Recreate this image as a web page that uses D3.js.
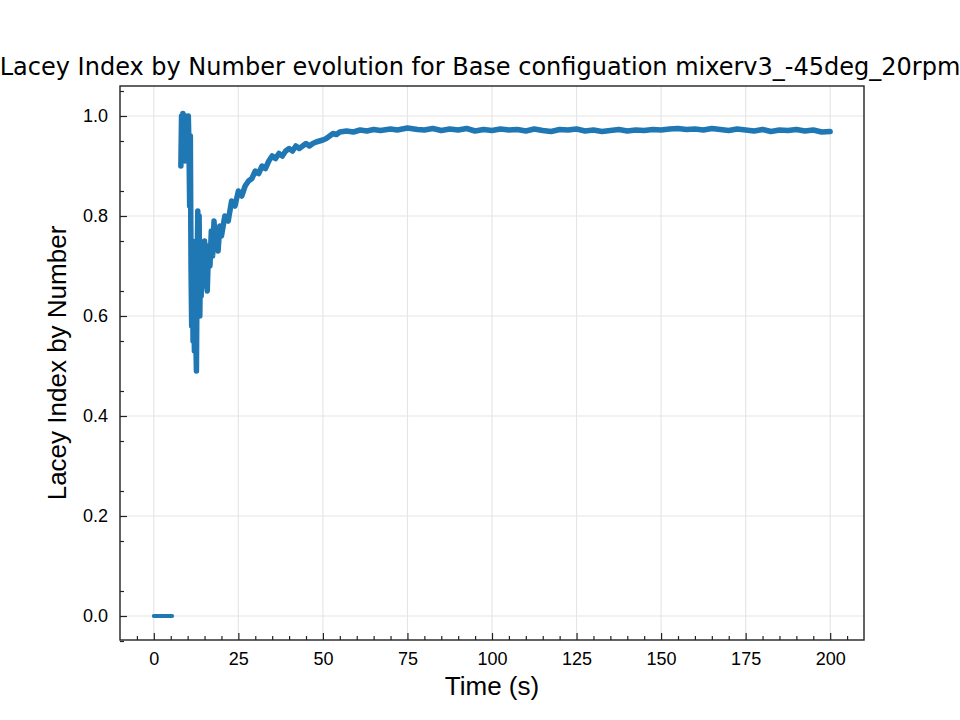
<!DOCTYPE html>
<html><head><meta charset="utf-8">
<script src="https://d3js.org/d3.v7.min.js"></script>
<style>body{margin:0;background:#fff}</style></head>
<body><svg id="c" width="960" height="720"></svg>
<script>
const title = "Lacey Index by Number evolution for Base configuation mixerv3_-45deg_20rpm";
const xLabel = "Time (s)";
const yLabel = "Lacey Index by Number";
const xTicks = [0,25,50,75,100,125,150,175,200];
const yTicks = [0.0,0.2,0.4,0.6,0.8,1.0];
const initTime = [0, 1, 2, 3, 4, 5.4];
const initValue = [0, 0, 0, 0, 0, 0];
const time = [8.0,8.2,8.4,8.6,8.8,9.0,9.2,9.4,9.6,9.8,10.0,10.2,10.4,10.6,10.8,11.0,11.2,11.4,11.6,11.8,12.0,12.2,12.4,12.6,12.8,13.0,13.2,13.4,13.6,13.8,14.0,14.2,14.4,14.6,14.8,15.0,15.4,15.8,16.2,16.6,17.0,17.4,17.8,18.2,18.6,19.0,19.5,20,21,22,23,24,25,26,27,28,29,30,31,32,33,34,35,36,37,38,39,40,41,42,43,44,45,46,47,48,49,50,51,52,53,54,55,57,59,61,63,65,67,70,72,75,78,80,82.5,85,87.5,90,92.5,95,97.5,100,102.5,105,107.5,110,112.5,115,117.5,120,122.5,125,127.5,130,132.5,135,137.5,140,142.5,145,147.5,150,152.5,155,157.5,160,162.5,165,167.5,170,172.5,175,177.5,180,182.5,185,187.5,190,192.5,195,197.5,200];
const value = [0.90,1.0,0.92,1.005,0.93,0.99,0.91,1.0,0.95,0.99,0.92,1.0,0.94,0.82,0.96,0.70,0.58,0.75,0.55,0.68,0.53,0.72,0.56,0.49,0.70,0.81,0.62,0.80,0.60,0.72,0.64,0.71,0.66,0.73,0.67,0.75,0.68,0.65,0.74,0.70,0.77,0.72,0.79,0.74,0.76,0.73,0.78,0.76,0.80,0.79,0.83,0.82,0.85,0.84,0.86,0.87,0.875,0.89,0.885,0.90,0.895,0.91,0.92,0.915,0.925,0.92,0.93,0.935,0.93,0.94,0.935,0.94,0.945,0.94,0.945,0.948,0.95,0.952,0.955,0.96,0.965,0.963,0.968,0.97,0.968,0.972,0.97,0.973,0.971,0.974,0.972,0.976,0.973,0.972,0.975,0.971,0.974,0.972,0.975,0.970,0.973,0.971,0.974,0.972,0.973,0.970,0.974,0.971,0.969,0.973,0.972,0.974,0.970,0.972,0.969,0.971,0.973,0.970,0.972,0.971,0.973,0.972,0.974,0.975,0.973,0.974,0.972,0.975,0.973,0.971,0.974,0.972,0.970,0.973,0.969,0.972,0.971,0.973,0.970,0.972,0.968,0.969];

const svg = d3.select("#c");
const L=120,R=864,T=86,B=640;
const x = d3.scaleLinear().domain([-10,210]).range([L,R]);
const y = d3.scaleLinear().domain([-0.048,1.06]).range([B,T]);
const g = svg.append("g");
g.selectAll(".gx").data(xTicks).enter().append("line").attr("x1",d=>x(d)).attr("x2",d=>x(d)).attr("y1",T).attr("y2",B).attr("stroke","#e6e6e6").attr("stroke-width",1.2);
g.selectAll(".gy").data(yTicks).enter().append("line").attr("y1",d=>y(d)).attr("y2",d=>y(d)).attr("x1",L).attr("x2",R).attr("stroke","#e6e6e6").attr("stroke-width",1.2);
const line = d3.line().x(d=>x(d[0])).y(d=>y(d[1]));
svg.append("clipPath").attr("id","cp").append("rect").attr("x",L).attr("y",T).attr("width",R-L).attr("height",B-T);
[[d3.zip(initTime,initValue),4],[d3.zip(time,value),5.5]].forEach(([dd,w])=>{
  svg.append("path").datum(dd).attr("d",line).attr("fill","none").attr("stroke","#1f77b4").attr("stroke-width",w).attr("stroke-linejoin","round").attr("stroke-linecap","round").attr("clip-path","url(#cp)");
});
svg.append("rect").attr("x",L).attr("y",T).attr("width",R-L).attr("height",B-T).attr("fill","none").attr("stroke","#222").attr("stroke-width",1.4);
const xa = svg.append("g").attr("transform",`translate(0,${B})`).call(d3.axisBottom(x).tickValues(xTicks).tickSize(-7).tickPadding(12).tickFormat(d3.format("d")));
const xm = svg.append("g").attr("transform",`translate(0,${B})`).call(d3.axisBottom(x).tickValues(d3.range(-5,210,5).filter(v=>v%25)).tickSize(-4).tickFormat(""));
const ya = svg.append("g").attr("transform",`translate(${L},0)`).call(d3.axisLeft(y).tickValues(yTicks).tickSize(-7).tickPadding(12).tickFormat(d3.format(".1f")));
const ym = svg.append("g").attr("transform",`translate(${L},0)`).call(d3.axisLeft(y).tickValues(d3.range(-0.05,1.06,0.05).filter(v=>Math.abs(v*10-Math.round(v*10))>0.01)).tickSize(-4).tickFormat(""));
[xa,xm,ya,ym].forEach(a=>{a.select(".domain").remove();a.selectAll("line").attr("stroke","#222").attr("stroke-width",1.2);a.selectAll("text").attr("font-family","Liberation Sans").attr("font-size",18).attr("fill","#000");});
svg.append("text").attr("x",480).attr("y",75).attr("text-anchor","middle").attr("font-family","DejaVu Sans").attr("font-size",24).text(title);
svg.append("text").attr("x",492).attr("y",695).attr("text-anchor","middle").attr("font-family","Liberation Sans").attr("font-size",26).text(xLabel);
svg.append("text").attr("transform","translate(66,363) rotate(-90)").attr("text-anchor","middle").attr("font-family","Liberation Sans").attr("font-size",26).text(yLabel);
</script></body></html>
